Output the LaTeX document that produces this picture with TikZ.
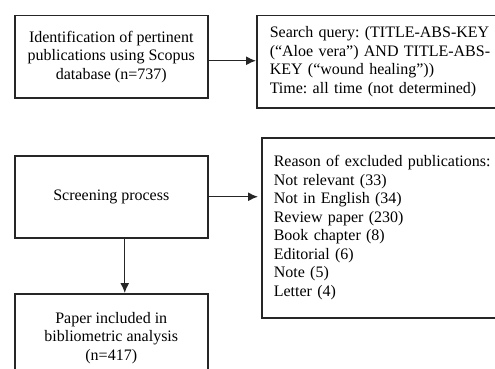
\documentclass[tikz,border=0pt]{standalone}
\usepackage{fontspec}
\setmainfont{Liberation Serif}
\usetikzlibrary{arrows.meta}
\frenchspacing
\begin{document}
\begin{tikzpicture}[x=1pt,y=-1pt,
  box/.style={draw=black!85, line width=1.5pt, rectangle, anchor=north west,
    inner sep=0pt, font=\fontsize{16}{18.5}\selectfont},
  cbox/.style={box, align=center},
  lbox/.style={box, align=left},
  conn/.style={draw=black!85, line width=1.4pt, -{Latex[length=10pt,width=9pt]}}]
\clip (0,0) rectangle (495,369);
\useasboundingbox (0,0) rectangle (495,369);
\node[cbox, minimum width=193pt, minimum height=82pt] (b1) at (14,15)
  {Identification of pertinent\\publications using Scopus\\database (n=737)};
\node[lbox, minimum width=250pt, minimum height=92pt, text width=224pt, inner xsep=13pt] (b2) at (256,15)
  {Search query: (TITLE-ABS-KEY\\(“Aloe vera”) AND TITLE-ABS-\\KEY (“wound healing”))\\Time: all time (not determined)};
\node[cbox, minimum width=193pt, minimum height=82pt] (b3) at (14,155)
  {Screening process};
\node[lbox, minimum width=250pt, minimum height=180pt, text width=226pt, inner xsep=12pt] (b4) at (261,137)
  {Reason of excluded publications:\\Not relevant (33)\\Not in English (34)\\Review paper (230)\\Book chapter (8)\\Editorial (6)\\Note (5)\\Letter (4)};
\node[cbox, minimum width=193pt, minimum height=88pt] (b5) at (14,293)
  {Paper included in\\bibliometric analysis\\(n=417)};
\draw[conn] ([yshift=-4pt]b1.east) -- ([yshift=-4pt]b1.east -| b2.west);
\draw[conn] (b3.east) -- ([xshift=-3pt]b3.east -| b4.west);
\draw[conn] ([xshift=13.5pt]b3.south) -- ([xshift=13.5pt]b5.north);
\end{tikzpicture}
\end{document}
